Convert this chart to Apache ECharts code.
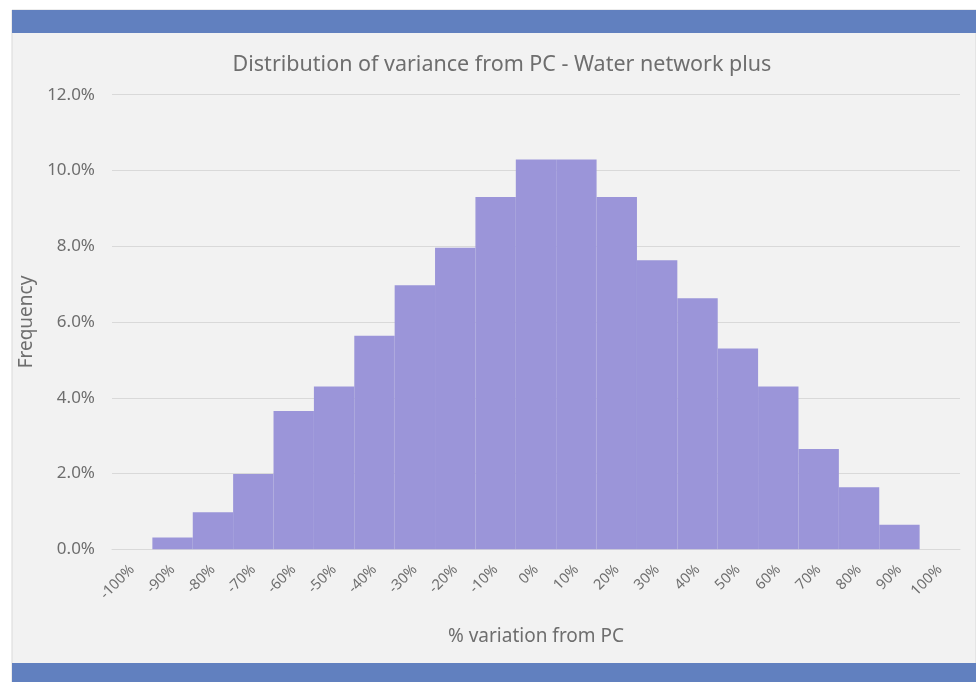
<!DOCTYPE html>
<html>
<head>
<meta charset="utf-8">
<script src="https://cdn.jsdelivr.net/npm/echarts@6/dist/echarts.min.js"></script>
<style>
html,body{margin:0;padding:0;background:#ffffff;}
#chart{width:976px;height:682px;}
</style>
</head>
<body>
<div id="chart"></div>
<script>
const titleText = 'Distribution of variance from PC - Water network plus';
const xAxisName = '% variation from PC';
const yAxisName = 'Frequency';
const categories = ['-100%','-90%','-80%','-70%','-60%','-50%','-40%','-30%','-20%','-10%','0%','10%','20%','30%','40%','50%','60%','70%','80%','90%','100%'];
const frequency = [0, 0.31, 0.98, 1.99, 3.65, 4.30, 5.64, 6.97, 7.96, 9.30, 10.29, 10.29, 9.30, 7.63, 6.63, 5.30, 4.30, 2.65, 1.64, 0.65, 0];
const yTicks = { min: 0, max: 12, interval: 2 };

const chart = echarts.init(document.getElementById('chart'), null, {renderer: 'canvas'});
const textColor = '#6e6e6e';
const barColor = '#9b95d9';
const font = 'Noto Sans';
chart.setOption({
  animation: false,
  backgroundColor: '#ffffff',
  graphic: [
    {type: 'rect', z: -10, shape: {x: 12, y: 10, width: 964, height: 672}, style: {fill: '#f2f2f2', stroke: '#d9d9d9', lineWidth: 1}},
    {type: 'rect', z: -9, shape: {x: 12, y: 10, width: 964, height: 23}, style: {fill: '#6180bf'}},
    {type: 'rect', z: -9, shape: {x: 12, y: 663, width: 964, height: 19}, style: {fill: '#6180bf'}}
  ],
  title: {
    text: titleText,
    left: 497, top: 49, textAlign: 'center',
    textStyle: {fontFamily: font, fontSize: 21.5, fontWeight: 'normal', color: textColor}
  },
  grid: {left: 112, right: 16, top: 94.7, bottom: 132.7},
  xAxis: {
    type: 'category',
    data: categories,
    boundaryGap: true,
    name: xAxisName,
    nameLocation: 'middle',
    nameGap: 78,
    nameTextStyle: {fontFamily: font, fontSize: 19, color: textColor},
    axisLine: {lineStyle: {color: '#d9d9d9', width: 1}},
    axisTick: {show: false},
    axisLabel: {interval: 0, rotate: 45, fontFamily: font, fontSize: 14.5, color: textColor, margin: 18}
  },
  yAxis: {
    type: 'value',
    min: yTicks.min, max: yTicks.max, interval: yTicks.interval,
    name: yAxisName,
    nameLocation: 'middle',
    nameGap: 73,
    nameTextStyle: {fontFamily: font, fontSize: 19, color: textColor},
    axisLine: {show: false},
    axisTick: {show: false},
    splitLine: {lineStyle: {color: '#d9d9d9', width: 1}},
    axisLabel: {fontFamily: font, fontSize: 17, color: textColor, margin: 17,
      formatter: v => v.toFixed(1) + '%'}
  },
  series: [{
    type: 'bar',
    data: frequency.map(v => v > 0 ? v : {value: v, itemStyle: {borderWidth: 0}}),
    barCategoryGap: '0%',
    itemStyle: {color: barColor, borderColor: barColor, borderWidth: 1.5}
  }]
});
</script>
</body>
</html>
